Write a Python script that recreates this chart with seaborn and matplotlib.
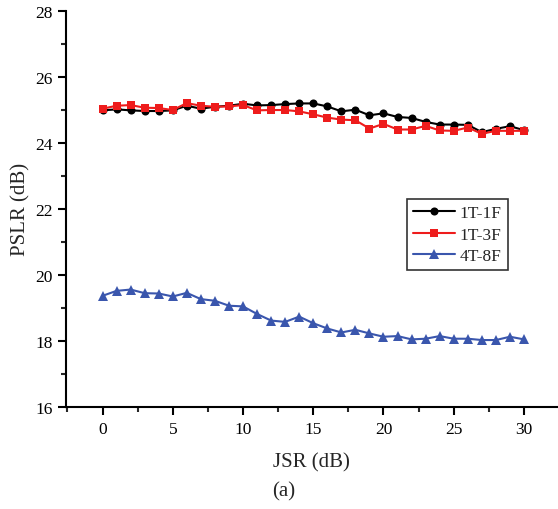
import matplotlib
matplotlib.use("Agg")
import matplotlib.pyplot as plt
from matplotlib.ticker import MultipleLocator
import seaborn as sns
import pandas as pd

jsr = list(range(0, 31))
pslr_1t1f = [24.98, 25.01, 24.98, 24.96, 24.96, 24.98, 25.12, 25.03, 25.09, 25.12, 25.18,
             25.13, 25.14, 25.17, 25.19, 25.19, 25.10, 24.95, 25.00, 24.83, 24.89, 24.78,
             24.75, 24.63, 24.55, 24.55, 24.54, 24.32, 24.42, 24.50, 24.38]
pslr_1t3f = [25.03, 25.12, 25.14, 25.06, 25.05, 24.99, 25.20, 25.12, 25.09, 25.10, 25.14,
             24.98, 24.99, 24.99, 24.95, 24.86, 24.76, 24.70, 24.68, 24.43, 24.57, 24.40,
             24.40, 24.51, 24.37, 24.36, 24.46, 24.27, 24.36, 24.36, 24.36]
pslr_4t8f = [19.36, 19.51, 19.55, 19.44, 19.43, 19.34, 19.45, 19.26, 19.21, 19.06, 19.04,
             18.81, 18.61, 18.57, 18.73, 18.53, 18.37, 18.25, 18.33, 18.22, 18.12, 18.14,
             18.04, 18.06, 18.14, 18.06, 18.06, 18.02, 18.02, 18.12, 18.04]
series_names = ["1T-1F", "1T-3F", "4T-8F"]

df = pd.DataFrame({"JSR": jsr * 3,
                   "PSLR": pslr_1t1f + pslr_1t3f + pslr_4t8f,
                   "series": sum([[n] * len(jsr) for n in series_names], [])})

sns.set_style("ticks")
plt.rcParams["font.family"] = ["Liberation Serif", "DejaVu Serif"]

fig = plt.figure(figsize=(5.58, 5.10), dpi=100)
ax = fig.add_axes([66.4 / 558, 1 - 407.7 / 510, (557 - 66.4) / 558, (407.7 - 11.7) / 510])

styles = {"1T-1F": ("#000000", "o", 5.8),
          "1T-3F": ("#ee1c1c", "s", 5.4),
          "4T-8F": ("#3a56ad", "^", 6.8)}
for name in series_names:
    c, m, ms = styles[name]
    sub = df[df["series"] == name]
    sns.lineplot(data=sub, x="JSR", y="PSLR", ax=ax, color=c, marker=m,
                 markersize=ms, markeredgewidth=0, linewidth=1.5, label=name)

ax.set_xlim(-2.57, 32.35)
ax.set_ylim(16, 28)
ax.xaxis.set_major_locator(MultipleLocator(5))
ax.xaxis.set_minor_locator(MultipleLocator(2.5))
ax.yaxis.set_major_locator(MultipleLocator(2))
ax.yaxis.set_minor_locator(MultipleLocator(1))
ax.set_xticks([0, 5, 10, 15, 20, 25, 30])
ax.tick_params(axis="both", which="major", direction="out", length=6, width=1.5,
               labelsize=12.5, colors="black", pad=4)
ax.tick_params(axis="both", which="minor", direction="out", length=3.5, width=1.5)
for s in ["left", "bottom"]:
    ax.spines[s].set_linewidth(1.5)
    ax.spines[s].set_color("black")
for s in ["top", "right"]:
    ax.spines[s].set_visible(False)

ax.set_xlabel("JSR (dB)", fontsize=15, labelpad=11)
ax.set_ylabel("PSLR (dB)", fontsize=15, labelpad=3)

leg = ax.legend(loc="upper right", bbox_to_anchor=(0.900, 0.5245), borderaxespad=0,
                fontsize=12.5, frameon=True, fancybox=False, handlelength=2.4,
                handletextpad=0.3, borderpad=0.35, labelspacing=0.3)
leg.get_frame().set_edgecolor("black")
leg.get_frame().set_linewidth(1.2)

fig.text(284 / 558, 1 - 492 / 510, "(a)", ha="center", va="center", fontsize=15)

fig.savefig("out.png", dpi=100)
